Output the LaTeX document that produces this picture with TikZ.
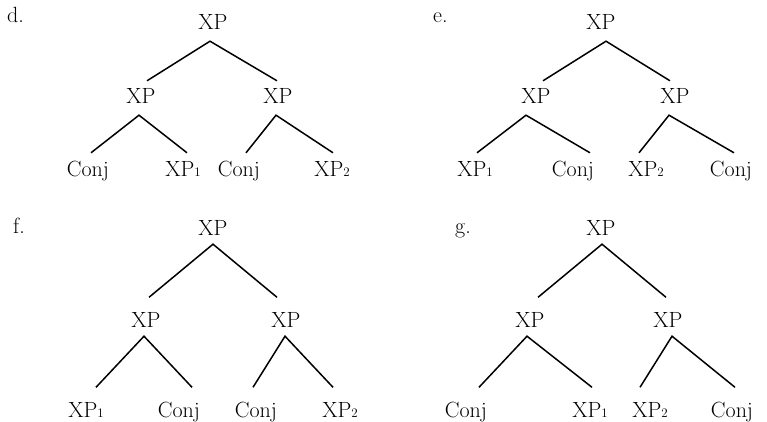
\documentclass[tikz,border=0pt]{standalone}
\newcommand\subn[1]{{\fontsize{13}{13}\selectfont #1}}
\tikzset{
  lbl/.style={inner sep=0pt, font=\fontsize{22}{26}\selectfont},
  topn/.style={anchor=base, inner xsep=0pt, inner ysep=4pt, text height=19pt, text depth=7pt, font=\fontsize{22}{26}\selectfont},
  botn/.style={anchor=base, inner xsep=0pt, inner ysep=4pt, text height=25.5pt, text depth=5pt, font=\fontsize{22}{26}\selectfont},
  edge/.style={line width=1.5pt}
}
\begin{document}
\begin{tikzpicture}[x=1pt,y=-1pt]
\useasboundingbox (0,0) rectangle (767,422);
% ---- d ----
\node[lbl, anchor=base west] (dl) at (7,23) {d.};
\node[topn] (dr) at (213,30) {XP};
\node[topn] (da) at (141,104) {XP};
\node[topn] (db) at (278,104) {XP};
\node[topn] (d1) at (88,176) {Conj};
\node[topn] (d2) at (183,176) {XP\subn{1}};
\node[topn] (d3) at (239,176) {Conj};
\node[topn] (d4) at (332,176) {XP\subn{2}};
\draw[edge] ([xshift=6pt]da.north) -- ([xshift=-3pt]dr.south) -- ([xshift=-1pt]db.north);
\draw[edge] ([xshift=3pt]d1.north) -- ([xshift=-2pt]da.south) -- ([xshift=4pt]d2.north);
\draw[edge] ([xshift=7pt]d3.north) -- ([xshift=-2pt]db.south) -- ([xshift=1pt]d4.north);
% ---- e ----
\node[lbl, anchor=base west] (el) at (433,23) {e.};
\node[topn] (er) at (601,30) {XP};
\node[topn] (ea) at (536,104) {XP};
\node[topn] (eb) at (675,104) {XP};
\node[topn] (e1) at (475,176) {XP\subn{1}};
\node[topn] (e2) at (573,176) {Conj};
\node[topn] (e3) at (646,176) {XP\subn{2}};
\node[topn] (e4) at (731,176) {Conj};
\draw[edge] ([xshift=7pt]ea.north) -- ([xshift=5pt]er.south) -- ([xshift=-5pt]eb.north);
\draw[edge] ([xshift=2pt]e1.north) -- ([xshift=-10pt]ea.south) -- ([xshift=17pt]e2.north);
\draw[edge] ([xshift=-7pt]e3.north) -- ([xshift=-6pt]eb.south) -- ([xshift=3pt]e4.north);
% ---- f ----
\node[lbl, anchor=base west] (fl) at (13,233) {f.};
\node[botn] (fr) at (213,235) {XP};
\node[botn] (fa) at (146,327) {XP};
\node[botn] (fb) at (286,327) {XP};
\node[botn] (f1) at (86,417) {XP\subn{1}};
\node[botn] (f2) at (179,417) {Conj};
\node[botn] (f3) at (256,417) {Conj};
\node[botn] (f4) at (340,417) {XP\subn{2}};
\draw[edge] ([xshift=3pt]fa.north) -- (fr.south) -- ([xshift=-9pt]fb.north);
\draw[edge] ([xshift=10pt]f1.north) -- ([xshift=-2pt]fa.south) -- ([xshift=13pt]f2.north);
\draw[edge] ([xshift=-3pt]f3.north) -- ([xshift=-1pt]fb.south) -- ([xshift=-7pt]f4.north);
% ---- g ----
\node[lbl, anchor=base west] (gl) at (455,233) {g.};
\node[botn] (gr) at (601,235) {XP};
\node[botn] (ga) at (530,327) {XP};
\node[botn] (gb) at (668,327) {XP};
\node[botn] (g1) at (466,417) {Conj};
\node[botn] (g2) at (590,417) {XP\subn{1}};
\node[botn] (g3) at (650,417) {XP\subn{2}};
\node[botn] (g4) at (732,417) {Conj};
\draw[edge] ([xshift=8pt]ga.north) -- ([xshift=1pt]gr.south) -- ([xshift=-2pt]gb.north);
\draw[edge] ([xshift=13pt]g1.north) -- ([xshift=-3pt]ga.south) -- ([xshift=2pt]g2.north);
\draw[edge] ([xshift=-10pt]g3.north) -- ([xshift=4pt]gb.south) -- ([xshift=3pt]g4.north);
\end{tikzpicture}
\end{document}
